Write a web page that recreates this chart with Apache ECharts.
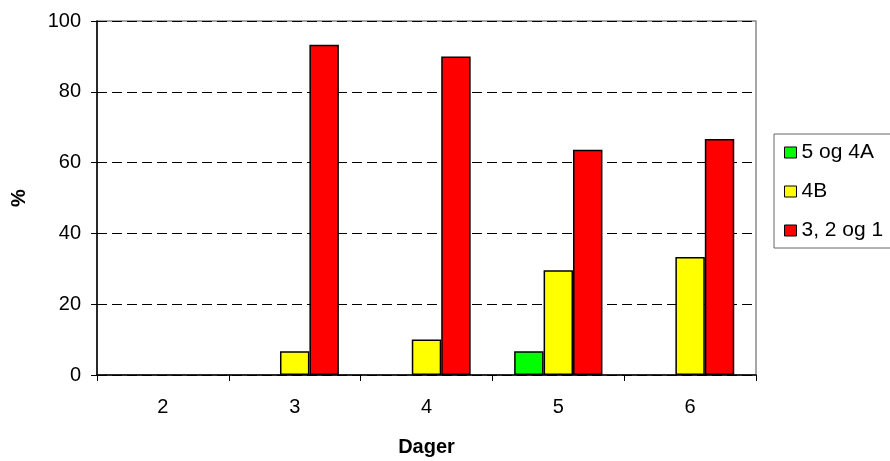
<!DOCTYPE html>
<html><head><meta charset="utf-8">
<script src="https://cdn.jsdelivr.net/npm/echarts@6/dist/echarts.min.js"></script>
<style>html,body{margin:0;padding:0;background:#fff}#c{width:890px;height:461px}</style>
</head><body><div id="c"></div>
<script>
const categories = ['2','3','4','5','6'];
const seriesNames = ['5 og 4A','4B','3, 2 og 1'];
const s54A = [0, 0, 0, 6.7, 0];
const s4B = [0, 6.7, 10, 29.6, 33.3];
const s321 = [0, 93.3, 90, 63.6, 66.7];
const colors = ['#00ff00','#ffff00','#ff0000'];
const font = 'Liberation Sans, Arial, sans-serif';
const chart = echarts.init(document.getElementById('c'));
const mk = (name, data, color) => ({
  name, type:'bar',
  data: data.map(v => v === 0 ? {value:0, itemStyle:{borderWidth:0}} : v),
  barGap:'0%', barCategoryGap:'33%',
  itemStyle:{color, borderColor:'#000', borderWidth:1.5},
  emphasis:{disabled:true}
});
chart.setOption({
  animation:false,
  textStyle:{fontFamily:font},
  grid:{left:97, right:134, top:21, bottom:86, containLabel:false, outerBoundsMode:'none',
        show:true, borderColor:'#888', borderWidth:1.5},
  legend:{
    orient:'vertical', left:774, top:134, data:seriesNames,
    itemWidth:12, itemHeight:11, itemGap:18,
    borderColor:'#666', borderWidth:1, padding:[8,12,7,10],
    textStyle:{fontFamily:font, fontSize:21, color:'#000', padding:[0,0,0,0]},
    icon:'rect', itemStyle:{borderColor:'#000', borderWidth:1}
  },
  xAxis:{
    type:'category', data:categories, name:'Dager', nameLocation:'middle', nameGap:62,
    nameTextStyle:{fontFamily:font, fontSize:20, fontWeight:'bold', color:'#000'},
    axisLine:{lineStyle:{color:'#000', width:1.5}},
    axisTick:{show:true, length:6, lineStyle:{color:'#000'}},
    axisLabel:{fontFamily:font, fontSize:20, color:'#000', margin:22}
  },
  yAxis:{
    type:'value', min:0, max:100, interval:20, name:'%', nameLocation:'middle', nameGap:68,
    nameTextStyle:{fontFamily:font, fontSize:20, fontWeight:'bold', color:'#000'},
    axisLine:{show:true, lineStyle:{color:'#000', width:1.5}},
    axisTick:{show:true, length:6, lineStyle:{color:'#000'}},
    axisLabel:{fontFamily:font, fontSize:20, color:'#000', margin:16},
    splitLine:{show:true, lineStyle:{color:'#000', type:[10,5], width:1}}
  },
  series:[mk(seriesNames[0], s54A, colors[0]), mk(seriesNames[1], s4B, colors[1]), mk(seriesNames[2], s321, colors[2])]
});
</script></body></html>
